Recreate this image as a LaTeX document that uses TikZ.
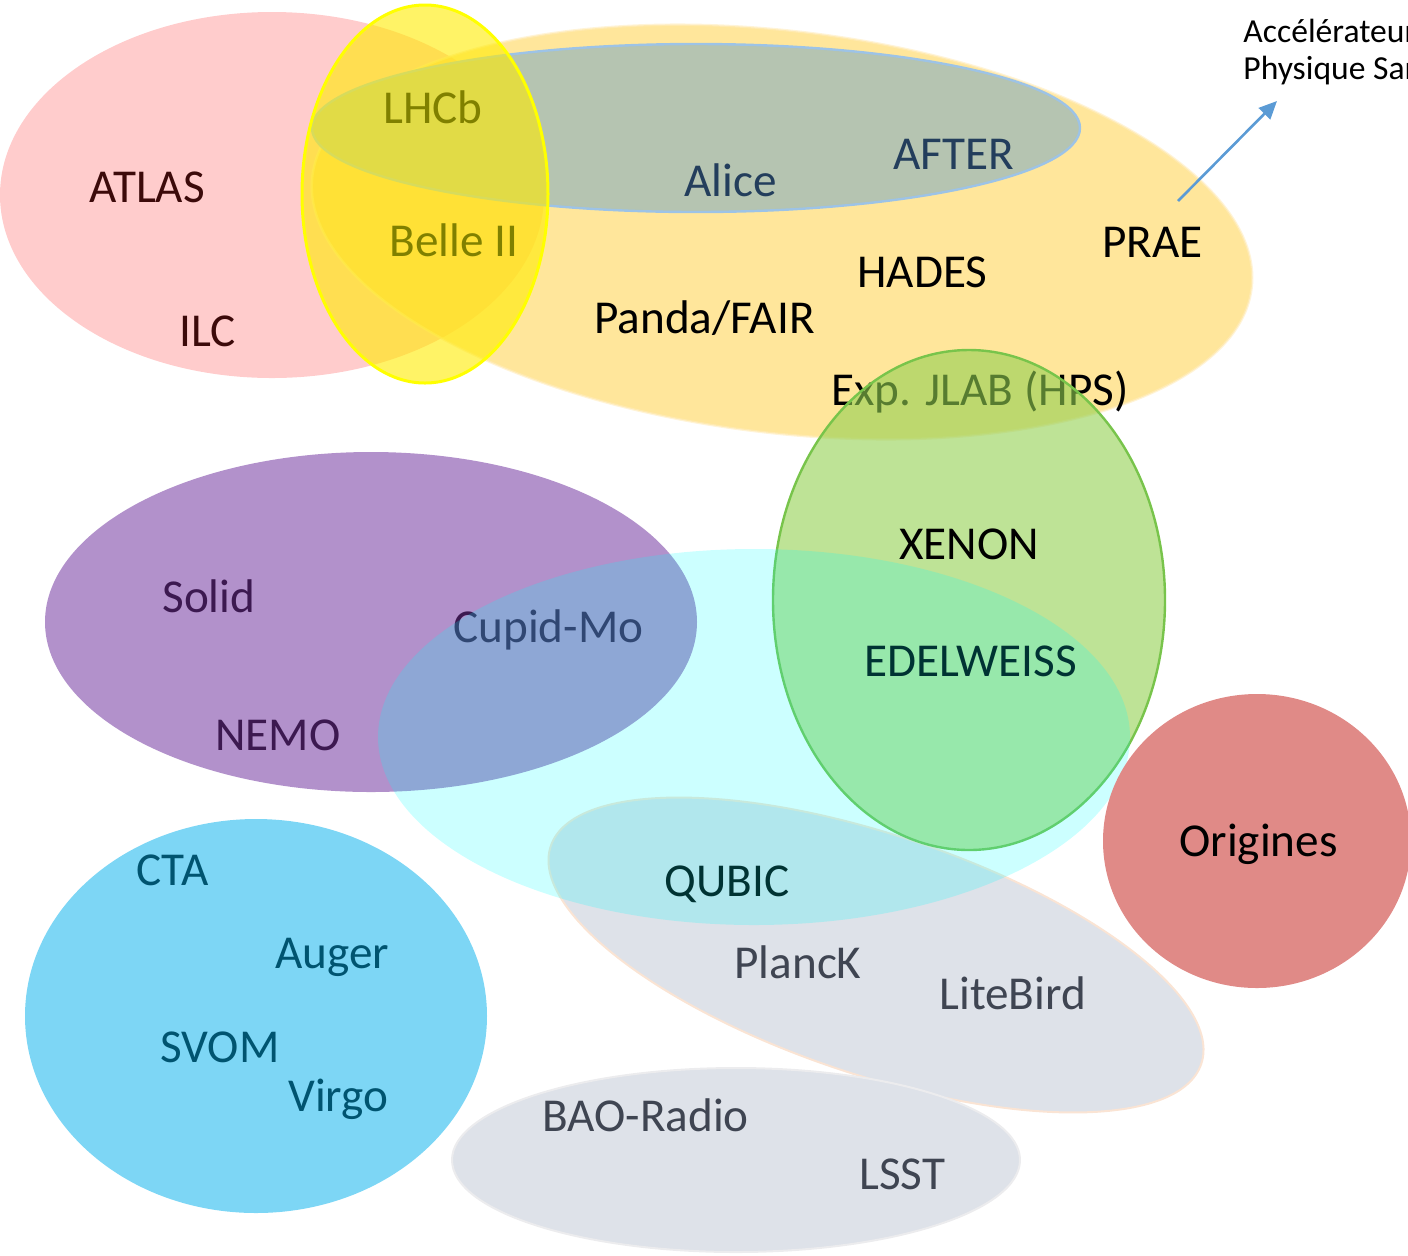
\documentclass[tikz,border=0pt]{standalone}
\usepackage{fontspec}
\setmainfont{Carlito}
\usetikzlibrary{arrows.meta}
\definecolor{pinkF}{RGB}{255,204,204}
\definecolor{orangeF}{RGB}{255,217,102}
\definecolor{orangeE}{RGB}{255,236,190}
\definecolor{aliceF}{RGB}{181,196,177}
\definecolor{aliceE}{RGB}{157,195,230}
\definecolor{yellowF}{RGB}{255,235,0}
\definecolor{yellowE}{RGB}{255,255,0}
\definecolor{purpleF}{RGB}{178,145,203}
\definecolor{ctaF}{RGB}{125,214,245}
\definecolor{greenF}{RGB}{146,208,80}
\definecolor{greenE}{RGB}{120,196,75}
\definecolor{greyF}{RGB}{222,226,233}
\definecolor{greyE}{RGB}{250,228,212}
\definecolor{baoE}{RGB}{236,236,238}
\definecolor{origF}{RGB}{224,138,135}
\definecolor{cyanF}{RGB}{0,255,255}
\definecolor{arrowC}{RGB}{91,155,213}
\definecolor{tMaroon}{RGB}{60,10,10}
\definecolor{tOlive}{RGB}{128,128,0}
\definecolor{tNavy}{RGB}{35,62,92}
\definecolor{tPurple}{RGB}{60,25,80}
\definecolor{tCta}{RGB}{0,84,112}
\definecolor{tGrey}{RGB}{63,69,82}
\begin{document}
\begin{tikzpicture}[x=0.5pt,y=-0.5pt,
  lbl/.style={anchor=base west,inner sep=0pt,font=\fontsize{23.6}{28}\selectfont},
  small/.style={anchor=base west,inner sep=0pt,font=\fontsize{16.8}{20}\selectfont}]
\useasboundingbox (0,0) rectangle (1408,1255);
% pink
\fill[pinkF] (272,195) ellipse [x radius=272, y radius=183];
\node[lbl,text=tMaroon] (atlas) at (89,202) {ATLAS};
\node[lbl,text=tMaroon] (ilc) at (179,346) {ILC};
% orange
\fill[orangeF,opacity=0.65] [rotate around={-6.8:(782,232)}] (782,232) ellipse [x radius=473, y radius=201];
\draw[orangeE,line width=1.2pt,opacity=0.6] [rotate around={-6.8:(782,232)}] (782,232) ellipse [x radius=473, y radius=201];
% alice
\filldraw[fill=aliceF,draw=aliceE,line width=1.2pt] (696,128) ellipse [x radius=384, y radius=84];
\node[lbl,text=tNavy] (alice) at (684,196) {Alice};
\node[lbl,text=tNavy] (after) at (893,169) {AFTER};
\node[lbl] (prae) at (1102,257) {PRAE};
\node[lbl] (hades) at (857,287) {HADES};
\node[lbl] (panda) at (594,333) {Panda/FAIR};
\node[lbl] (jlab) at (831,405) {Exp. JLAB (HPS)};
% yellow
\fill[yellowF,opacity=0.6] (425,194) ellipse [x radius=123, y radius=189];
\draw[yellowE,line width=1.5pt] (425,194) ellipse [x radius=123, y radius=189];
\node[lbl,text=tOlive] (lhcb) at (383,123) {LHCb};
\node[lbl,text=tOlive] (belle) at (389,256) {Belle II};
% purple
\fill[purpleF] (371,622) ellipse [x radius=326, y radius=170];
\node[lbl,text=tPurple] (solid) at (162,612) {Solid};
\node[lbl,text=tPurple] (nemo) at (215,750) {NEMO};
\node[lbl,text=tPurple] (cupid) at (453,642) {Cupid-Mo};
% CTA
\fill[ctaF] (256,1016) ellipse [x radius=231, y radius=197];
\node[lbl,text=tCta] (cta) at (136,885) {CTA};
\node[lbl,text=tCta] (auger) at (275,968) {Auger};
\node[lbl,text=tCta] (svom) at (160,1062) {SVOM};
\node[lbl,text=tCta] (virgo) at (288,1111) {Virgo};
% grey tilted
\filldraw[fill=greyF,draw=greyE,line width=1pt] [rotate around={-18.5:(876,955)}] (876,955) ellipse [x radius=343, y radius=120];
\node[lbl] (qubic) at (664,896) {QUBIC};
\node[lbl,text=tGrey] (planck) at (734,978) {PlancK};
\node[lbl,text=tGrey] (litebird) at (939,1009) {LiteBird};
% BAO
\filldraw[fill=greyF,draw=baoE,line width=1pt] (736,1160) ellipse [x radius=284, y radius=92];
\node[lbl,text=tGrey] (bao) at (542,1131) {BAO-Radio};
\node[lbl,text=tGrey] (lsst) at (859,1189) {LSST};
% green
\fill[greenF,opacity=0.6] (969,600) ellipse [x radius=196, y radius=250];
\draw[greenE,line width=1.2pt] (969,600) ellipse [x radius=196, y radius=250];
\node[lbl] (xenon) at (899,559) {XENON};
\node[lbl] (edel) at (864,676) {EDELWEISS};
% cyan overlay
\fill[cyanF,opacity=0.2] (754,737) ellipse [x radius=376, y radius=188];
% origines
\fill[origF] (1257,841) ellipse [x radius=154, y radius=147];
\node[lbl] (orig) at (1179,856) {Origines};
% arrow and side text
\coordinate (arrS) at (1178,201);
\coordinate (arrE) at (1277,101);
\draw[arrowC,line width=1.3pt,-{Triangle[length=9pt,width=8pt]}] (arrS) -- (arrE);
\node[small] (acc) at (1243,42) {Accélérateur};
\node[small] (phys) at (1243,79) {Physique San};
\end{tikzpicture}
\end{document}
